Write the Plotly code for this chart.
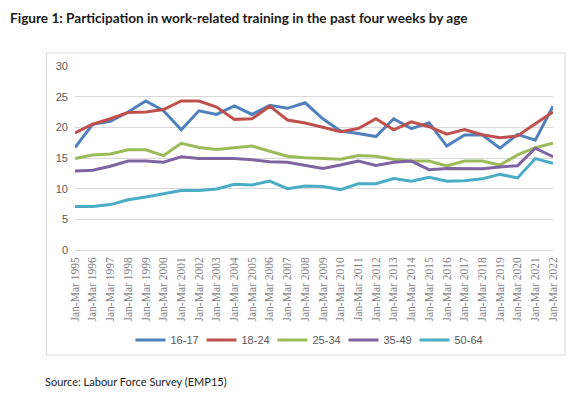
import plotly.graph_objects as go

years = list(range(1995, 2023))
categories = [f"Jan-Mar {y}" for y in years]

age_16_17 = [16.7, 20.5, 21.0, 22.5, 24.3, 22.7, 19.6, 22.7, 22.1, 23.5,
             22.1, 23.6, 23.1, 24.0, 21.4, 19.4, 19.0, 18.5, 21.4, 19.8,
             20.75, 16.95, 18.75, 18.8, 16.6, 18.85, 17.9, 23.45]
age_18_24 = [19.1, 20.5, 21.4, 22.4, 22.5, 22.9, 24.3, 24.3, 23.3, 21.3,
             21.4, 23.45, 21.2, 20.7, 20.0, 19.3, 19.8, 21.4, 19.6, 20.9,
             20.1, 18.9, 19.65, 18.8, 18.3, 18.6, 20.6, 22.5]
age_25_34 = [14.9, 15.5, 15.65, 16.35, 16.35, 15.4, 17.4, 16.7, 16.4, 16.7,
             16.95, 16.1, 15.3, 15.05, 14.95, 14.8, 15.4, 15.3, 14.8, 14.5,
             14.5, 13.7, 14.5, 14.5, 13.85, 15.5, 16.7, 17.4]
age_35_49 = [12.9, 13.0, 13.65, 14.5, 14.5, 14.3, 15.2, 14.9, 14.9, 14.9,
             14.7, 14.4, 14.3, 13.8, 13.3, 13.85, 14.5, 13.8, 14.3, 14.5,
             13.1, 13.3, 13.25, 13.25, 13.55, 13.75, 16.6, 15.2]
age_50_64 = [7.1, 7.1, 7.4, 8.2, 8.65, 9.15, 9.7, 9.7, 9.95, 10.7,
             10.6, 11.25, 10.0, 10.45, 10.35, 9.85, 10.8, 10.8, 11.65, 11.2,
             11.85, 11.2, 11.3, 11.6, 12.35, 11.75, 14.9, 14.15]

series_names = ["16-17", "18-24", "25-34", "35-49", "50-64"]
series_values = [age_16_17, age_18_24, age_25_34, age_35_49, age_50_64]
series_colors = ["#4F81BD", "#C0504D", "#9BBB59", "#8064A2", "#4BACC6"]

y_ticks = [0, 5, 10, 15, 20, 25, 30]

fig = go.Figure()
for name, vals, col in zip(series_names, series_values, series_colors):
    fig.add_trace(go.Scatter(x=categories, y=vals, name=name, mode="lines",
                             line=dict(color=col, width=3)))

W, H = 580, 395
ml, mr, mt, mb = 75, 27, 66, 145
pw = W - ml - mr
ph = H - mt - mb

def px_x(x):
    return (x - ml) / pw

def px_y(y):
    return (H - mb - y) / ph

fig.update_layout(
    width=W, height=H,
    margin=dict(l=ml, r=mr, t=mt, b=mb),
    paper_bgcolor="white", plot_bgcolor="white",
    title=dict(text="<b>Figure 1: Participation in work-related training in the past four weeks by age</b>",
               x=10 / W, xref="container", xanchor="left",
               y=1 - 18 / H, yref="container", yanchor="middle",
               font=dict(family="Lato", size=13.6, color="#1a1a1a")),
    xaxis=dict(type="category", tickangle=-90, showgrid=False, showline=False,
               ticks="", tickfont=dict(family="Liberation Serif", size=11.5, color="#7f7f7f"),
               ticklabelstandoff=4),
    yaxis=dict(range=[0, 30], tickvals=y_ticks, showgrid=True, gridcolor="#d9d9d9",
               gridwidth=1, zeroline=True, zerolinecolor="#d9d9d9", zerolinewidth=1,
               showline=False, ticks="",
               tickfont=dict(family="Liberation Sans", size=11, color="#595959"),
               ticklabelstandoff=6),
    legend=dict(orientation="h", x=px_x(308), xanchor="center", y=px_y(340), yanchor="middle",
                font=dict(family="Liberation Sans", size=11, color="#595959"),
                itemwidth=30, tracegroupgap=0, bgcolor="rgba(0,0,0,0)",
                entrywidth=26, entrywidthmode="pixels"),
    showlegend=True,
)

fig.add_shape(type="rect", xref="paper", yref="paper",
              x0=px_x(46.5), x1=px_x(565), y0=px_y(355), y1=px_y(53),
              line=dict(color="#d9d9d9", width=1), fillcolor="rgba(0,0,0,0)", layer="below")

fig.add_annotation(text="Source: Labour Force Survey (EMP15)", xref="paper", yref="paper",
                   x=px_x(43), y=px_y(381), xanchor="left", yanchor="middle", showarrow=False,
                   font=dict(family="Lato", size=11, color="#1a1a1a"))

fig.write_html("out.html", config={"displayModeBar": False},
               post_script="document.body.style.margin='0';")
